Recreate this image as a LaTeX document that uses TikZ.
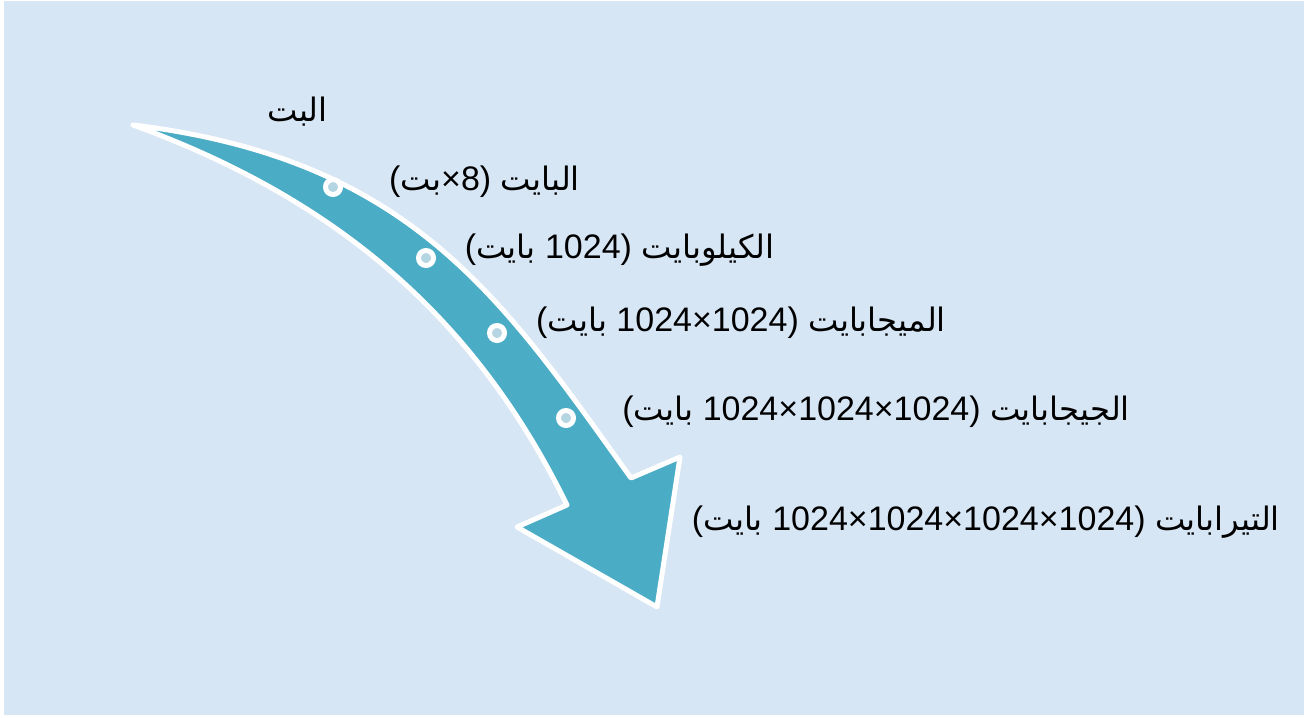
\documentclass[tikz,border=0pt]{standalone}
\usepackage{fontspec}
\setmainfont{Liberation Sans}
\newfontfamily\arabicfont[Script=Arabic,Scale=0.95]{DejaVu Sans}
\TeXXeTstate=1
\newcommand{\ar}[1]{{\arabicfont\beginR #1\endR}}
\definecolor{bgblue}{RGB}{215,230,245}
\definecolor{arrowteal}{RGB}{75,172,198}
\definecolor{dotfill}{RGB}{180,213,225}
\tikzset{
  lbl/.style={anchor=east, inner sep=0pt, font=\fontsize{34}{38}\selectfont, text=black},
  dot/.style={circle, draw=white, line width=5pt, fill=dotfill, minimum size=15pt, inner sep=0pt},
}
\begin{document}
\begin{tikzpicture}[x=1pt,y=-1pt]
\useasboundingbox (0,0) rectangle (1305,717);
\fill[white] (0,0) rectangle (1305,717);
\fill[bgblue] (4,1) rectangle (1304,715);
% arrow
\coordinate (S) at (133,125);
\coordinate (Rin) at (631,478);
\coordinate (Rout) at (680,457);
\coordinate (T) at (657,607);
\coordinate (Lout) at (517,527);
\coordinate (Lin) at (567,505);
\path[fill=arrowteal, draw=white, line width=5pt, line join=round]
  (S) .. controls (413,159) and (503,300) .. (Rin)
  -- (Rout) -- (T) -- (Lout) -- (Lin)
  .. controls (479,325) and (345,202) .. (S)
  -- cycle;
% dots
\node[dot] (d1) at (333,187) {};
\node[dot] (d2) at (426,258) {};
\node[dot] (d3) at (497,333) {};
\node[dot] (d4) at (566,418) {};
% labels
\node[lbl] (t1) at (328,112) {\ar{البت}};
\node[lbl] (t2) at (580,182) {(\ar{بت}×8) \ar{البايت}};
\node[lbl] (t3) at (775,250) {(\ar{بايت} 1024) \ar{الكيلوبايت}};
\node[lbl] (t4) at (946,323) {(\ar{بايت} 1024×1024) \ar{الميجابايت}};
\node[lbl] (t5) at (1130,412) {(\ar{بايت} 1024×1024×1024) \ar{الجيجابايت}};
\node[lbl] (t6) at (1280,522) {(\ar{بايت} 1024×1024×1024×1024) \ar{التيرابايت}};
\end{tikzpicture}
\end{document}
